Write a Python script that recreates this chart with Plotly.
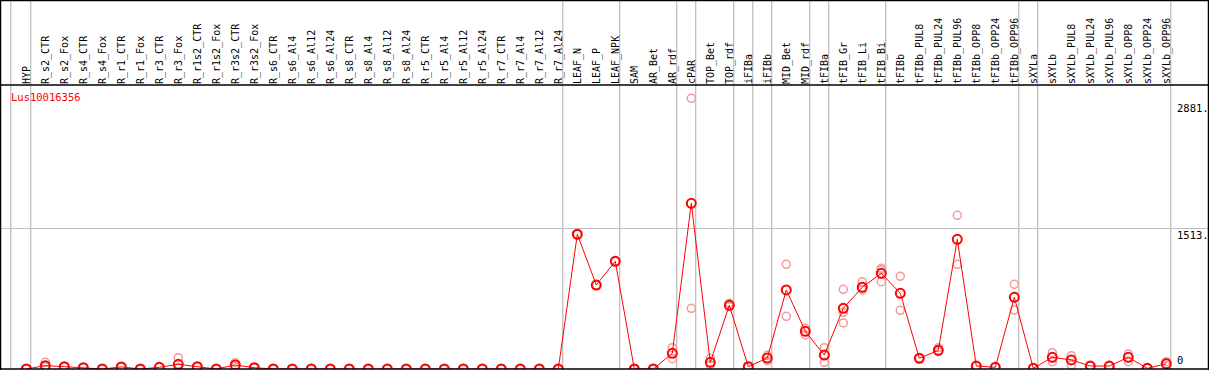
import plotly.graph_objects as go

categories = ["HYP", "R_s2_CTR", "R_s2_Fox", "R_s4_CTR", "R_s4_Fox", "R_r1_CTR", "R_r1_Fox",
              "R_r3_CTR", "R_r3_Fox", "R_r1s2_CTR", "R_r1s2_Fox", "R_r3s2_CTR", "R_r3s2_Fox",
              "R_s6_CTR", "R_s6_Al4", "R_s6_Al12", "R_s6_Al24", "R_s8_CTR", "R_s8_Al4", "R_s8_Al12",
              "R_s8_Al24", "R_r5_CTR", "R_r5_Al4", "R_r5_Al12", "R_r5_Al24", "R_r7_CTR", "R_r7_Al4",
              "R_r7_Al12", "R_r7_Al24", "LEAF_N", "LEAF_P", "LEAF_NPK", "SAM", "AR_Bet", "AR_rdf",
              "cPAR", "TOP_Bet", "TOP_rdf", "iFIBa", "iFIBb", "MID_Bet", "MID_rdf", "tFIBa",
              "tFIB_Gr", "tFIB_Li", "tFIB_Bi", "tFIBb", "tFIBb_PUL8", "tFIBb_PUL24", "tFIBb_PUL96",
              "tFIBb_OPP8", "tFIBb_OPP24", "tFIBb_OPP96", "sXYLa", "sXYLb", "sXYLb_PUL8",
              "sXYLb_PUL24", "sXYLb_PUL96", "sXYLb_OPP8", "sXYLb_OPP24", "sXYLb_OPP96"]

mean_vals = [0, 36, 25, 14, 0, 22, 0, 18, 50, 25, 0, 43, 14,
             0, 0, 0, 0, 0, 0, 0, 0, 0, 0, 0, 0, 0, 0, 0, 0,
             1449, 903, 1158, 0, 0, 169, 1782, 72, 685, 25, 118, 850, 405, 150,
             653, 879, 1029, 814, 115, 201, 1395, 32, 18, 771, 7, 126, 97,
             32, 32, 126, 7, 57]

rep_a = [0, 72, 25, 14, 0, 22, 0, 18, 122, 25, 0, 68, 14,
         0, 0, 0, 0, 0, 0, 0, 0, 0, 0, 0, 0, 0, 0, 0, 0,
         1449, 903, 1158, 0, 0, 229, 2911, 115, 706, 30, 147, 1126, 438, 229,
         857, 939, 1083, 997, 120, 229, 1653, 32, 18, 911, 7, 175, 143,
         32, 32, 161, 7, 79]

rep_b = [0, 25, 25, 14, 0, 22, 0, 18, 18, 25, 0, 25, 14,
         0, 0, 0, 0, 0, 0, 0, 0, 0, 0, 0, 0, 0, 0, 0, 0,
         1449, 903, 1158, 0, 0, 111, 653, 43, 670, 20, 89, 567, 366, 72,
         495, 850, 1065, 631, 110, 186, 1126, 32, 18, 634, 7, 79, 43,
         32, 32, 79, 7, 35]

rep_c = [None] * 8 + [11] + [None] * 34 + [610, None, 939] + [None] * 15

group_breaks = [-0.82, 0, 28, 31, 34, 35, 37, 38, 39, 41, 42, 45, 52, 53, 60]
y_labels = [2881, 1513, 0]
gene_name = "Lus10016356"

W, H = 1209, 370
ML, MR, MT, MB = 1, 1, 85, 1
plot_h = H - MT - MB
plot_w = W - ML - MR
x0_px, step_px = 26.3, 19.0
xr = [(ML - x0_px) / step_px, (W - MR - x0_px) / step_px]
yr = [0, 3054]

def px_to_paper_x(px):
    return (px - ML) / plot_w

def px_to_paper_y(py):
    return (H - MB - py) / plot_h

def data_to_paper_x(v):
    return (v - xr[0]) / (xr[1] - xr[0])

xs = list(range(len(categories)))
mono = "DejaVu Sans Mono"

fig = go.Figure()
px_, py_ = [], []
for reps in (rep_a, rep_b, rep_c):
    for i, v in enumerate(reps):
        if v is not None:
            px_.append(i)
            py_.append(v)
fig.add_trace(go.Scatter(x=px_, y=py_, mode="markers",
                         marker=dict(symbol="circle-open", size=8, color="#f09a9a",
                                     line=dict(width=1.5, color="#f09a9a")),
                         hoverinfo="skip", showlegend=False))
fig.add_trace(go.Scatter(x=xs, y=mean_vals, mode="lines+markers",
                         line=dict(color="#ff0000", width=1),
                         marker=dict(symbol="circle-open", size=9, color="#ff0000",
                                     line=dict(width=2, color="#ff0000")),
                         showlegend=False))

shapes = []
top_paper = px_to_paper_y(0)
for b in group_breaks:
    v = b if b < 0 else b + 0.232
    xp = data_to_paper_x(v)
    shapes.append(dict(type="line", xref="paper", yref="paper", x0=xp, x1=xp,
                       y0=0, y1=top_paper, line=dict(color="#c0c0c0", width=1.3), layer="below"))
# frame lines
lx, rx = px_to_paper_x(0.5), px_to_paper_x(W - 0.5)
shapes += [
    dict(type="line", xref="paper", yref="paper", x0=lx, x1=rx, y0=px_to_paper_y(0.5), y1=px_to_paper_y(0.5),
         line=dict(color="black", width=1.5)),
    dict(type="line", xref="paper", yref="paper", x0=lx, x1=rx, y0=1, y1=1,
         line=dict(color="black", width=1.5)),
    dict(type="line", xref="paper", yref="paper", x0=lx, x1=rx, y0=0, y1=0,
         line=dict(color="black", width=1.5)),
    dict(type="line", xref="paper", yref="paper", x0=lx, x1=lx, y0=px_to_paper_y(H), y1=top_paper,
         line=dict(color="black", width=1.5)),
    dict(type="line", xref="paper", yref="paper", x0=rx, x1=rx, y0=px_to_paper_y(H), y1=top_paper,
         line=dict(color="black", width=1.5)),
]

annotations = [dict(text=gene_name, xref="paper", yref="paper", x=px_to_paper_x(9),
                    y=px_to_paper_y(97), xanchor="left", yanchor="middle", showarrow=False,
                    font=dict(family=mono, size=10.5, color="#ff0000"))]
for v in y_labels:
    txt = f"{v}." if v else "0"
    annotations.append(dict(text=txt, xref="paper", yref="y", x=px_to_paper_x(1175), y=v,
                            xanchor="left", yanchor="top" if v else "bottom",
                            yshift=1, showarrow=False,
                            font=dict(family=mono, size=10.5, color="black")))

fig.update_layout(
    width=W, height=H, margin=dict(l=ML, r=MR, t=MT, b=MB, pad=0),
    paper_bgcolor="white", plot_bgcolor="white",
    xaxis=dict(range=xr, side="top", tickmode="array", tickvals=xs, ticktext=categories,
               tickangle=-90, tickfont=dict(family=mono, size=10, color="black"),
               showgrid=False, zeroline=False, ticks="", showline=False, fixedrange=True),
    yaxis=dict(range=yr, tickmode="array", tickvals=[1513], showticklabels=False,
               showgrid=True, gridcolor="#c0c0c0", gridwidth=1.3, zeroline=False,
               ticks="", showline=False, fixedrange=True),
    shapes=shapes, annotations=annotations, showlegend=False,
)

fig.write_html("out.html", config={"displayModeBar": False},
               post_script="document.body.style.margin='0';document.body.style.overflow='hidden';")
